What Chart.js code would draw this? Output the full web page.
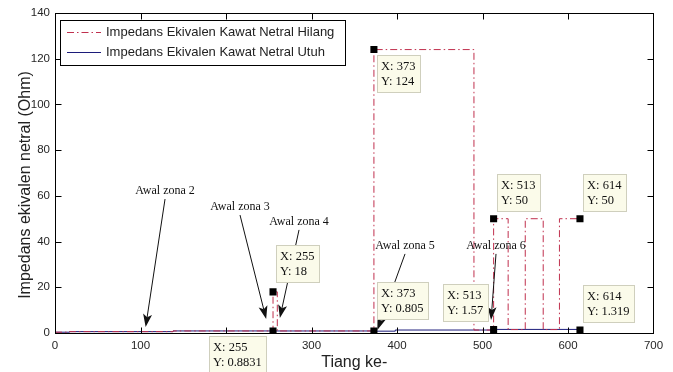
<!DOCTYPE html>
<html>
<head>
<meta charset="utf-8">
<script src="https://cdn.jsdelivr.net/npm/chart.js@4.4.1/dist/chart.umd.min.js"></script>
<style>
  html, body { margin: 0; padding: 0; background: #fff; }
  #c { display: block; }
</style>
</head>
<body>
<canvas id="c" width="673" height="372"></canvas>
<script>
// Step curves: each tiang value starts a step that holds its impedance until the next one
const tiangHilang    = [0,    17,   138, 255, 260, 373, 490, 513, 530, 550, 571, 590, 614];
const impedansHilang = [0.35, 0.6,  0.9, 18,  0.9, 124, 1.3, 50,  1.5, 50,  1.5, 50,  50];

const tiangUtuh    = [0,    17,  138, 255,    373,   398, 513,  614];
const impedansUtuh = [0.35, 0.6, 0.9, 0.8831, 0.805, 1.3, 1.57, 1.319];

// Data cursor readouts
const tipTiang    = [255, 255,    373, 373,   513, 513,  614, 614];
const tipImpedans = [18,  0.8831, 124, 0.805, 50,  1.57, 50,  1.319];

// Zone start annotations: arrow tips
const zonaLabels   = ['Awal zona 2', 'Awal zona 3', 'Awal zona 4', 'Awal zona 5', 'Awal zona 6'];
const zonaTiang    = [106, 247, 263, 377, 510];
const zonaImpedans = [2.6, 6.1, 6.6, 1.3, 5.7];

// Axis ticks
const xTicks = [0, 100, 200, 300, 400, 500, 600, 700];
const yTicks = [0, 20, 40, 60, 80, 100, 120, 140];

// ---- layout (not data) ----
// label centres of the zone annotations, in axis units
const zonaLabelAt = [[128.7, 62.1], [216.4, 55.1], [285.4, 48.6], [409.4, 38.1], [515.8, 38.1]];
// readout box placement relative to its marker (px); negative = box placed left / above
const tipBoxAt = [[3, -9], [-6, 5], [3, 5], [3, -11], [3, -7], [-5, -7], [3, -7], [3, -7]];

const RED = 'rgb(192,48,78)';
const BLUE = 'rgb(28,28,122)';
const DASHDOT = [7, 3, 1.5, 3];

const toPoints = (xs, ys) => xs.map((x, i) => ({ x: x, y: ys[i] }));
// hold each value until the next tiang, then jump (vertical riser)
const toSteps = (xs, ys) => xs.flatMap((x, i) =>
  i < xs.length - 1 ? [{ x: x, y: ys[i] }, { x: xs[i + 1], y: ys[i] }] : [{ x: x, y: ys[i] }]);

function drawArrow(ctx, sx, sy, tx, ty) {
  const ang = Math.atan2(ty - sy, tx - sx);
  const L = 13, W = 4.5, inset = 3;
  ctx.beginPath();
  ctx.moveTo(sx, sy);
  ctx.lineTo(tx - Math.cos(ang) * (L - inset), ty - Math.sin(ang) * (L - inset));
  ctx.stroke();
  const bx = tx - Math.cos(ang) * L, by = ty - Math.sin(ang) * L;
  const nx = -Math.sin(ang) * W, ny = Math.cos(ang) * W;
  ctx.beginPath();
  ctx.moveTo(tx, ty);
  ctx.lineTo(bx + nx, by + ny);
  ctx.lineTo(tx - Math.cos(ang) * (L - inset), ty - Math.sin(ang) * (L - inset));
  ctx.lineTo(bx - nx, by - ny);
  ctx.closePath();
  ctx.fill();
}

const overlay = {
  id: 'overlay',
  afterDatasetsDraw(chart) {
    const ctx = chart.ctx, xs = chart.scales.x, ys = chart.scales.y;
    ctx.save();
    // zone annotations with arrows
    ctx.font = '12px "Liberation Serif", "Times New Roman", serif';
    ctx.textAlign = 'center';
    ctx.textBaseline = 'middle';
    ctx.fillStyle = '#111';
    ctx.strokeStyle = '#111';
    ctx.lineWidth = 1;
    zonaLabels.forEach((t, i) => {
      const lx = xs.getPixelForValue(zonaLabelAt[i][0]);
      const ly = ys.getPixelForValue(zonaLabelAt[i][1]);
      ctx.fillText(t, lx, ly);
      drawArrow(ctx, lx, ly + 8,
        xs.getPixelForValue(zonaTiang[i]), ys.getPixelForValue(zonaImpedans[i]));
    });

    // cursor readout boxes
    ctx.font = '12.5px "Liberation Serif", "Times New Roman", serif';
    ctx.textAlign = 'left';
    tipTiang.forEach((tx, i) => {
      const l1 = 'X: ' + tx, l2 = 'Y: ' + tipImpedans[i];
      const w = Math.ceil(Math.max(ctx.measureText(l1).width, ctx.measureText(l2).width)) + 9;
      const h = 38;
      const mx = xs.getPixelForValue(tx), my = ys.getPixelForValue(tipImpedans[i]);
      const [ax, ay] = tipBoxAt[i];
      const bx = Math.round(ax >= 0 ? mx + ax : mx + ax - w);
      const by = Math.round(ay >= 0 ? my + ay : my + ay - h);
      ctx.fillStyle = '#fbfbea';
      ctx.fillRect(bx, by, w, h);
      ctx.strokeStyle = '#cfcfbd';
      ctx.strokeRect(bx + 0.5, by + 0.5, w - 1, h - 1);
      ctx.fillStyle = '#111';
      ctx.fillText(l1, bx + 4, by + 12);
      ctx.fillText(l2, bx + 4, by + 27);
    });
    ctx.restore();
  },
  afterDraw(chart) {
    const ctx = chart.ctx, xs = chart.scales.x, ys = chart.scales.y;
    const { left, right, top, bottom } = chart.chartArea;
    ctx.save();
    ctx.strokeStyle = '#000';
    ctx.lineWidth = 1;
    // axes box with inward ticks
    const L = Math.round(left) + 0.5, R = Math.round(right) - 0.5;
    const T = Math.round(top) + 0.5, B = Math.round(bottom) + 0.5;
    ctx.strokeRect(L, T, R - L, B - T);
    ctx.beginPath();
    xTicks.forEach(v => {
      const p = Math.min(R, Math.max(L, Math.round(xs.getPixelForValue(v)) + 0.5));
      ctx.moveTo(p, B); ctx.lineTo(p, B - 6);
      ctx.moveTo(p, T); ctx.lineTo(p, T + 6);
    });
    yTicks.forEach(v => {
      const p = Math.min(B, Math.max(T, Math.round(ys.getPixelForValue(v)) + 0.5));
      ctx.moveTo(L, p); ctx.lineTo(L + 6, p);
      ctx.moveTo(R, p); ctx.lineTo(R - 6, p);
    });
    ctx.stroke();

    // y axis title
    ctx.save();
    ctx.translate(26, 185);
    ctx.rotate(-Math.PI / 2);
    ctx.font = '16px "Liberation Sans", Arial, sans-serif';
    ctx.fillStyle = '#222';
    ctx.textAlign = 'center';
    ctx.textBaseline = 'middle';
    ctx.fillText('Impedans ekivalen netral (Ohm)', 0, 0);
    ctx.restore();

    // legend
    const ds = chart.data.datasets;
    ctx.fillStyle = '#fff';
    ctx.fillRect(60, 20, 285, 45);
    ctx.strokeStyle = '#000';
    ctx.strokeRect(60.5, 20.5, 285, 45);
    ctx.font = '13px "Liberation Sans", Arial, sans-serif';
    ctx.textAlign = 'left';
    ctx.textBaseline = 'middle';
    [0, 1].forEach((k, row) => {
      const y = 32.5 + row * 20;
      ctx.save();
      ctx.strokeStyle = ds[k].borderColor;
      ctx.setLineDash(ds[k].borderDash || []);
      ctx.beginPath();
      ctx.moveTo(67, y); ctx.lineTo(101, y);
      ctx.stroke();
      ctx.restore();
      ctx.fillStyle = '#222';
      ctx.fillText(ds[k].label, 106, y);
    });
    ctx.restore();
  }
};

Chart.defaults.font.family = '"Liberation Sans", Arial, sans-serif';

new Chart(document.getElementById('c'), {
  type: 'line',
  data: {
    datasets: [
      {
        label: 'Impedans Ekivalen Kawat Netral Hilang',
        data: toSteps(tiangHilang, impedansHilang),
        borderColor: RED,
        borderWidth: 1,
        borderDash: DASHDOT,
        pointRadius: 0,
        fill: false
      },
      {
        label: 'Impedans Ekivalen Kawat Netral Utuh',
        data: toSteps(tiangUtuh, impedansUtuh),
        borderColor: BLUE,
        borderWidth: 1,
        pointRadius: 0,
        fill: false
      },
      {
        label: 'cursor',
        data: toPoints(tipTiang, tipImpedans),
        showLine: false,
        pointStyle: 'rect',
        pointRadius: 5,
        pointBackgroundColor: '#000',
        pointBorderWidth: 0,
        order: -1
      }
    ]
  },
  options: {
    responsive: false,
    animation: false,
    devicePixelRatio: 1,
    layout: { padding: { top: 13, right: 19.5, left: 0, bottom: 0 } },
    plugins: { legend: { display: false }, tooltip: { enabled: false } },
    elements: { line: { tension: 0 } },
    scales: {
      x: {
        type: 'linear',
        min: 0, max: 700,
        afterBuildTicks: s => { s.ticks = xTicks.map(v => ({ value: v })); },
        afterFit: s => { s.height = 39; },
        grid: { display: false, drawTicks: false },
        border: { display: false },
        ticks: { padding: 6, color: '#262626', font: { size: 11.5 } },
        title: {
          display: true, text: 'Tiang ke-', color: '#222',
          font: { size: 16 }, padding: { top: 0, bottom: 0 }
        }
      },
      y: {
        type: 'linear',
        min: 0, max: 140,
        afterBuildTicks: s => { s.ticks = yTicks.map(v => ({ value: v })); },
        afterFit: s => { s.width = 55; },
        grid: { display: false, drawTicks: false },
        border: { display: false },
        ticks: { padding: 5, color: '#262626', font: { size: 11.5 } }
      }
    }
  },
  plugins: [overlay]
});
</script>
</body>
</html>
